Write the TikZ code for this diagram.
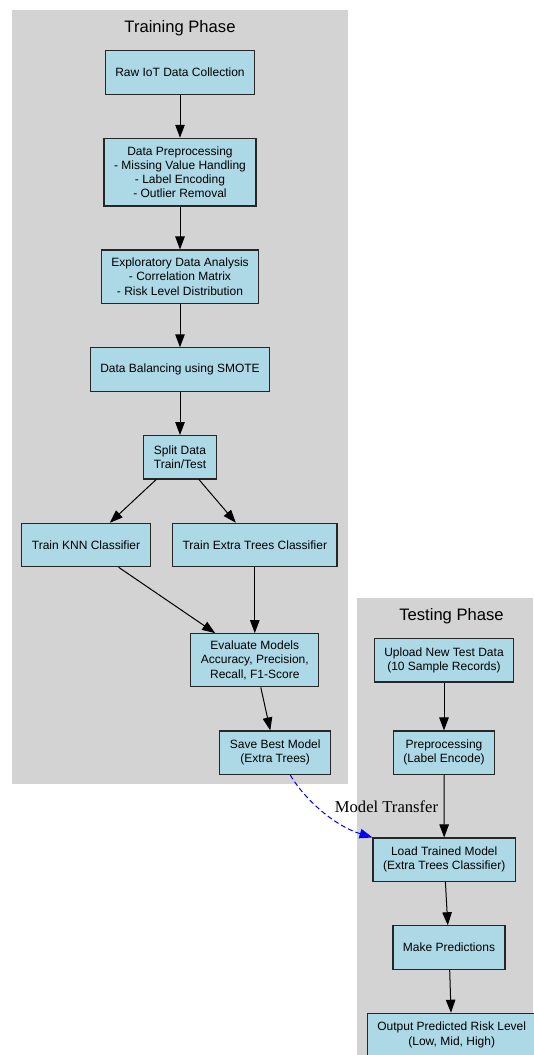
\documentclass[tikz,border=0pt]{standalone}
\usepackage{fontspec}
\setmainfont{Liberation Sans}
\newfontfamily\edgefont{Liberation Serif}
\usepackage{tikz}
\usetikzlibrary{arrows.meta}

\definecolor{boxblue}{HTML}{ADD8E6}
\definecolor{clustergray}{HTML}{D3D3D3}

\begin{document}
\begin{tikzpicture}[
    x=1pt, y=1pt,
    >={Triangle[length=13pt,width=9.5pt]},
    procbox/.style={draw=black!85, fill=boxblue, line width=1.2pt, align=center,
        font=\fontsize{12}{14.3}\selectfont, inner xsep=10pt, inner ysep=2pt,
        minimum height=43.3pt},
    flow/.style={->, line width=1pt},
    transfer/.style={->, blue, line width=1pt, dash pattern=on 5pt off 3pt},
    phase/.style={anchor=base, font=\fontsize{16.6}{20}\selectfont}
]

% --- Page ---
\useasboundingbox (0,0) rectangle (533,-1055);

% --- Definitions ---
\def\trainL{12}   % Training cluster
\def\trainR{348}
\def\testL{356.7} % Testing cluster
\def\testT{-598.3}

% --- Clusters ---
\fill[clustergray] (\trainL,-10) rectangle (\trainR,-784);
\fill[clustergray] (\testL,\testT) rectangle (533,-1055);

\node[phase] (trainTitle) at (180,-32.3) {Training Phase};
\node[phase] (testTitle) at (451.5,-620) {Testing Phase};

% --- Training Phase nodes ---
\node[procbox] (raw) at (180,-72.5) {Raw IoT Data Collection};
\node[procbox, minimum height=67.7pt] (prep) at (180,-172.2)
    {Data Preprocessing\\- Missing Value Handling\\- Label Encoding\\- Outlier Removal};
\node[procbox, minimum height=53.3pt] (eda) at (180,-276.7)
    {Exploratory Data Analysis\\- Correlation Matrix\\- Risk Level Distribution};
\node[procbox] (smote) at (180,-369.5) {Data Balancing using SMOTE};
\node[procbox] (split) at (180,-457.3) {Split Data\\Train/Test};
\node[procbox] (knn) at (86,-545) {Train KNN Classifier};
\node[procbox] (extra) at (254.8,-545) {Train Extra Trees Classifier};
\node[procbox, minimum height=53pt] (evalm) at (254.8,-660.2)
    {Evaluate Models\\Accuracy, Precision,\\Recall, F1-Score};
\node[procbox] (save) at (275.2,-752.7) {Save Best Model\\(Extra Trees)};

% --- Testing Phase nodes ---
\node[procbox] (upload) at (444,-660.3) {Upload New Test Data\\(10 Sample Records)};
\node[procbox] (testprep) at (444,-752.7) {Preprocessing\\(Label Encode)};
\node[procbox] (load) at (444.2,-859.7) {Load Trained Model\\(Extra Trees Classifier)};
\node[procbox] (predict) at (449,-947.5) {Make Predictions};
\node[procbox] (output) at (451.7,-1035) {Output Predicted Risk Level\\(Low, Mid, High)};

% --- Training flow ---
\draw[flow] (raw) -- (prep);
\draw[flow] (prep) -- (eda);
\draw[flow] (eda) -- (smote);
\draw[flow] (smote) -- (split);
\draw[flow] (split) -- (knn);
\draw[flow] (split) -- (extra);
\draw[flow] (knn) -- (evalm);
\draw[flow] (extra) -- (evalm);
\draw[flow] (evalm) -- (save);

% --- Testing flow ---
\draw[flow] (upload) -- (testprep);
\draw[flow] (testprep) -- (load);
\draw[flow] (load) -- (predict);
\draw[flow] (predict) -- (output);

% --- Model transfer ---
\draw[transfer] (save.-56) .. controls (305,-800) and (335,-826) .. (load.north west);
\node[anchor=base, font=\edgefont\fontsize{16.6}{20}\selectfont] (xfer) at (386.5,-812.3)
    {Model Transfer};

\end{tikzpicture}
\end{document}
